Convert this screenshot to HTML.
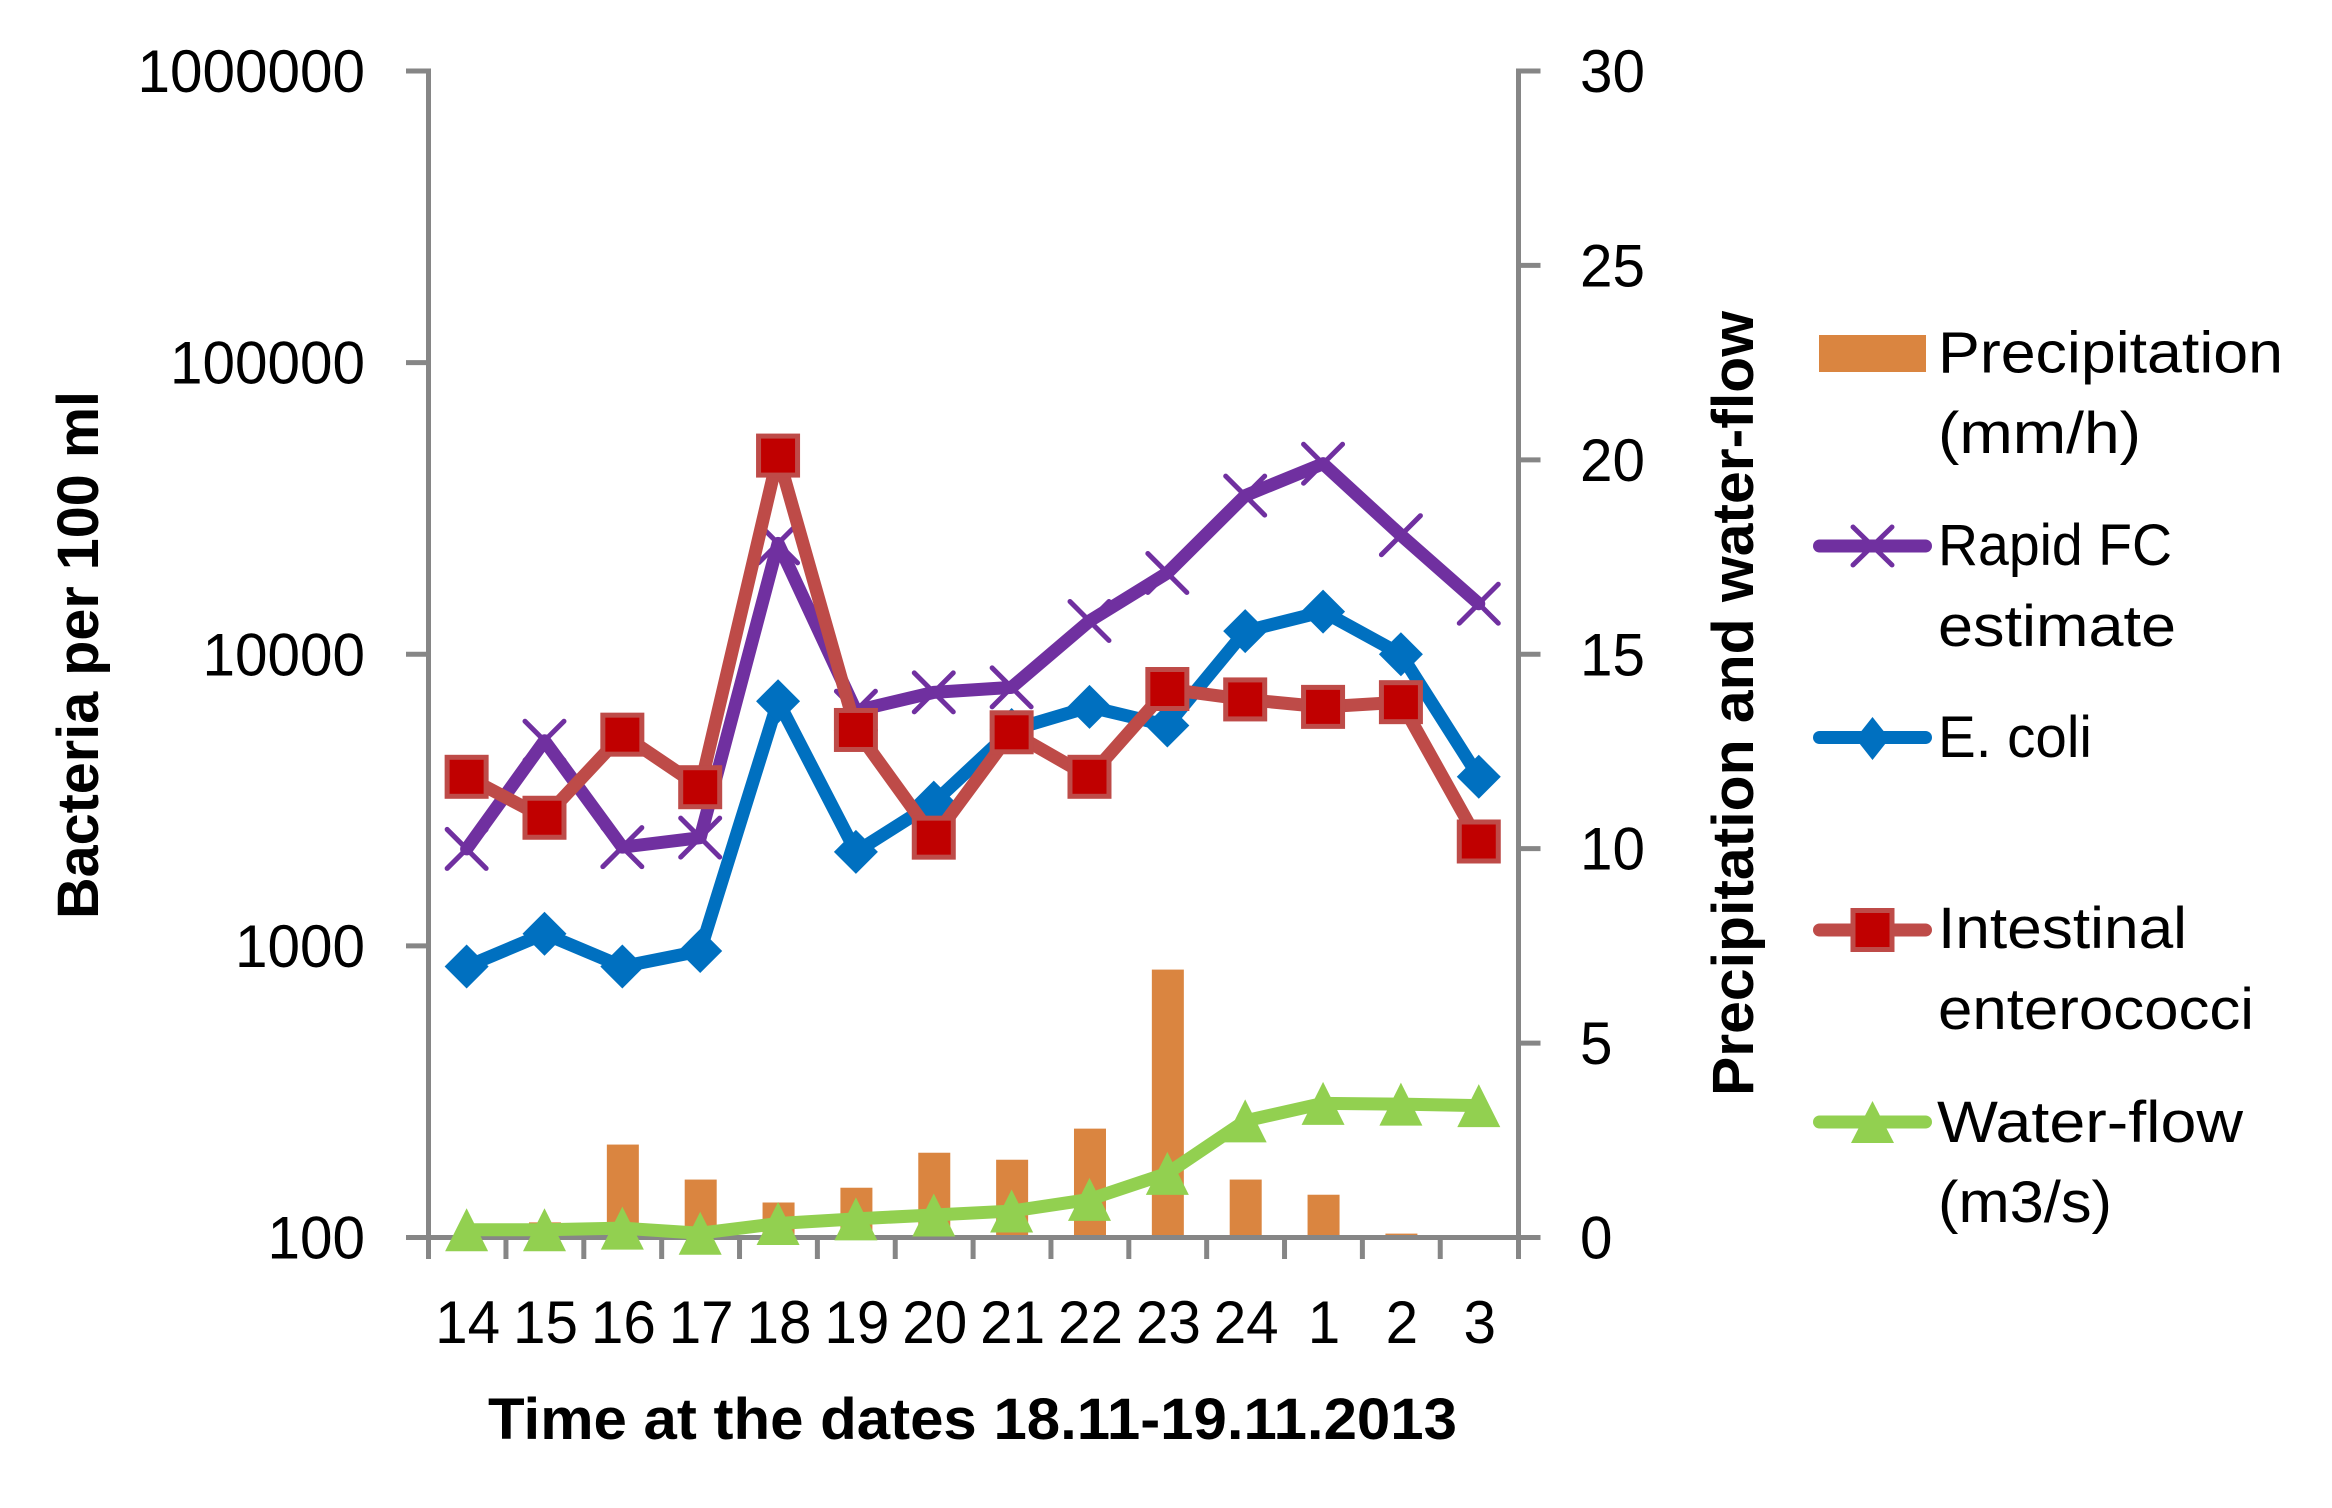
<!DOCTYPE html>
<html lang="en">
<head>
<meta charset="utf-8">
<title>Bacteria, precipitation and water-flow</title>
<style>
html,body{margin:0;padding:0;background:#fff;}
svg{display:block;}
text{font-family:"Liberation Sans",sans-serif;fill:#000;}
</style>
</head>
<body>
<svg id="chart" xmlns="http://www.w3.org/2000/svg" width="2332" height="1508" viewBox="0 0 2332 1508">
  <rect x="0" y="0" width="2332" height="1508" fill="#ffffff"/>
  <g id="bars"></g>
  <g id="axes"></g>
  <g id="lines"></g>

  <text x="488" y="1439" font-size="58" font-weight="bold" textLength="969" lengthAdjust="spacingAndGlyphs">Time at the dates 18.11-19.11.2013</text>
  <text transform="translate(98,919) rotate(-90)" x="0" y="0" font-size="58" font-weight="bold" textLength="528" lengthAdjust="spacingAndGlyphs">Bacteria per 100 ml</text>
  <text transform="translate(1753,1096) rotate(-90)" x="0" y="0" font-size="58" font-weight="bold" textLength="785" lengthAdjust="spacingAndGlyphs">Precipitation and water-flow</text>

  <g>
    <g>
      <rect x="1819" y="335" width="107" height="37" fill="#DA8540"/>
      <text x="1938" y="372.5" font-size="58" textLength="345" lengthAdjust="spacingAndGlyphs">Precipitation</text>
      <text x="1938" y="453" font-size="58" textLength="203" lengthAdjust="spacingAndGlyphs">(mm/h)</text>
    </g>
    <g>
      <line x1="1819.5" y1="546" x2="1925.5" y2="546" stroke="#7030A0" stroke-width="13" stroke-linecap="round"/>
      <path d="M1853 527L1892 565M1892 527L1853 565" stroke="#7030A0" stroke-width="5" stroke-linecap="round" fill="none"/>
      <text x="1938" y="565" font-size="58" textLength="234" lengthAdjust="spacingAndGlyphs">Rapid FC</text>
      <text x="1938" y="646" font-size="58" textLength="238" lengthAdjust="spacingAndGlyphs">estimate</text>
    </g>
    <g>
      <line x1="1819.5" y1="737.5" x2="1925.5" y2="737.5" stroke="#0070C0" stroke-width="13" stroke-linecap="round"/>
      <polygon points="1872.5,717 1889.5,738.5 1872.5,760 1855.5,738.5" fill="#0070C0"/>
      <text x="1938" y="757" font-size="58" textLength="154" lengthAdjust="spacingAndGlyphs">E. coli</text>
    </g>
    <g>
      <line x1="1819.5" y1="930" x2="1925.5" y2="930" stroke="#BE4B48" stroke-width="13" stroke-linecap="round"/>
      <rect x="1853" y="910.5" width="39" height="39" fill="#C00000" stroke="#BE4B48" stroke-width="5"/>
      <text x="1938" y="948" font-size="58" textLength="249" lengthAdjust="spacingAndGlyphs">Intestinal</text>
      <text x="1938" y="1029" font-size="58" textLength="316" lengthAdjust="spacingAndGlyphs">enterococci</text>
    </g>
    <g>
      <line x1="1819.5" y1="1122" x2="1925.5" y2="1122" stroke="#92D050" stroke-width="13" stroke-linecap="round"/>
      <polygon points="1872.5,1101 1894,1143 1851,1143" fill="#92D050"/>
      <text x="1937" y="1142" font-size="58" textLength="306" lengthAdjust="spacingAndGlyphs">Water-flow</text>
      <text x="1938" y="1222" font-size="58" textLength="174" lengthAdjust="spacingAndGlyphs">(m3/s)</text>
    </g>
  </g>
</svg>
<script>
const categories = ["14","15","16","17","18","19","20","21","22","23","24","1","2","3"];
const precipitation = [0,0.39,2.39,1.49,0.9,1.28,2.18,2.0,2.8,6.89,1.49,1.1,0.1,0];
const rapidFC = [2150,5050,2180,2350,24000,6400,7400,7700,13000,19000,35000,45000,25600,14900];
const eColi = [850,1100,850,960,6900,2100,3100,5500,6600,5700,12000,14000,10000,3800];
const enterococci = [3800,2750,5300,3500,48000,5500,2350,5400,3800,7600,7000,6600,6850,2280];
const waterFlow = [0.2,0.2,0.24,0.11,0.36,0.48,0.58,0.68,0.98,1.65,3.0,3.45,3.43,3.39];
const leftTicks = [100,1000,10000,100000,1000000];
const rightTicks = [0,5,10,15,20,25,30];

const NS = "http://www.w3.org/2000/svg";
const plotLeft = 428.5, plotRight = 1518.5, plotTop = 71, plotBottom = 1237.5;
const step = (plotRight - plotLeft) / categories.length;
const xAt = i => plotLeft + step * (i + 0.5) - 0.8;
const yLeft = v => plotBottom - (Math.log10(v) - 2) * (plotBottom - plotTop) / 4;
const yRight = v => plotBottom - v * (plotBottom - plotTop) / 30;

function mk(tag, attrs, parent, txt) {
  const el = document.createElementNS(NS, tag);
  for (const k in attrs) el.setAttribute(k, attrs[k]);
  if (txt !== undefined) el.textContent = txt;
  parent.appendChild(el);
  return el;
}
const axisColor = "#868686";
const axisW = 5;
const digitW = 32.5;
const barsG = document.getElementById("bars");
const axesG = document.getElementById("axes");
const linesG = document.getElementById("lines");

precipitation.forEach((v, i) => {
  const top = yRight(v);
  const el = mk("rect", {x: xAt(i) - 15.5, y: top, width: 32, height: plotBottom - top, fill: "#DA8540"}, barsG);
  
  
});

const leftAxis = mk("line", {x1: plotLeft, y1: plotTop - 2.5, x2: plotLeft, y2: plotBottom + 21.5, stroke: axisColor, "stroke-width": axisW}, axesG);


const rightAxis = mk("line", {x1: plotRight, y1: plotTop - 2.5, x2: plotRight, y2: plotBottom + 21.5, stroke: axisColor, "stroke-width": axisW}, axesG);


const xAxis = mk("line", {x1: plotLeft - 22.5, y1: plotBottom, x2: plotRight + 22, y2: plotBottom, stroke: axisColor, "stroke-width": axisW}, axesG);



leftTicks.forEach(v => {
  const y = yLeft(v);
  const t = mk("line", {x1: plotLeft - 22.5, y1: y, x2: plotLeft, y2: y, stroke: axisColor, "stroke-width": axisW}, axesG);
  
  
  const s = String(v);
  const l = mk("text", {x: 365, y: y + 21, "font-size": 60, "text-anchor": "end", textLength: s.length * digitW, lengthAdjust: "spacingAndGlyphs"}, axesG, s);
  
  
});
rightTicks.forEach(v => {
  const y = yRight(v);
  const t = mk("line", {x1: plotRight, y1: y, x2: plotRight + 22, y2: y, stroke: axisColor, "stroke-width": axisW}, axesG);
  
  
  const s = String(v);
  const l = mk("text", {x: 1580, y: y + 21, "font-size": 60, textLength: s.length * digitW, lengthAdjust: "spacingAndGlyphs"}, axesG, s);
  
  
});
categories.forEach((c, i) => {
  const tx = plotLeft + step * (i + 1) - 0.4;
  if (i < categories.length - 1) {
    const t = mk("line", {x1: tx, y1: plotBottom, x2: tx, y2: plotBottom + 21.5, stroke: axisColor, "stroke-width": axisW}, axesG);
    
    
  }
  const l = mk("text", {x: xAt(i) + 1, y: 1343, "font-size": 60, "text-anchor": "middle", textLength: c.length * digitW, lengthAdjust: "spacingAndGlyphs"}, axesG, c);
  
  
});

function drawLine(values, yFn, color, width) {
  const pts = values.map((v, i) => xAt(i) + "," + yFn(v)).join(" ");
  const el = mk("polyline", {points: pts, fill: "none", stroke: color, "stroke-width": width, "stroke-linejoin": "round", "stroke-linecap": "round"}, linesG);
  return el;
}

const rapidLine = drawLine(rapidFC, yLeft, "#7030A0", 13);


rapidFC.forEach((v, i) => {
  const x = xAt(i), y = yLeft(v), r = 19.5;
  const m = mk("path", {d: `M${x-r} ${y-r}L${x+r} ${y+r}M${x+r} ${y-r}L${x-r} ${y+r}`, stroke: "#7030A0", "stroke-width": 5, "stroke-linecap": "round", fill: "none"}, linesG);
  
  
});

const ecoliLine = drawLine(eColi, yLeft, "#0070C0", 13);


eColi.forEach((v, i) => {
  const x = xAt(i), y = yLeft(v), r = 22;
  const m = mk("polygon", {points: `${x},${y-r} ${x+r},${y} ${x},${y+r} ${x-r},${y}`, fill: "#0070C0"}, linesG);
  
  
});

const enteroLine = drawLine(enterococci, yLeft, "#BE4B48", 13);


enterococci.forEach((v, i) => {
  const x = xAt(i), y = yLeft(v);
  const m = mk("rect", {x: x - 19.5, y: y - 19.5, width: 39, height: 39, fill: "#C00000", stroke: "#BE4B48", "stroke-width": 5}, linesG);
  
  
});

const waterLine = drawLine(waterFlow, yRight, "#92D050", 13);


waterFlow.forEach((v, i) => {
  const x = xAt(i), y = yRight(v);
  const m = mk("polygon", {points: `${x},${y-21.5} ${x+21.5},${y+21.5} ${x-21.5},${y+21.5}`, fill: "#92D050"}, linesG);
  
  
});
</script>
</body>
</html>
